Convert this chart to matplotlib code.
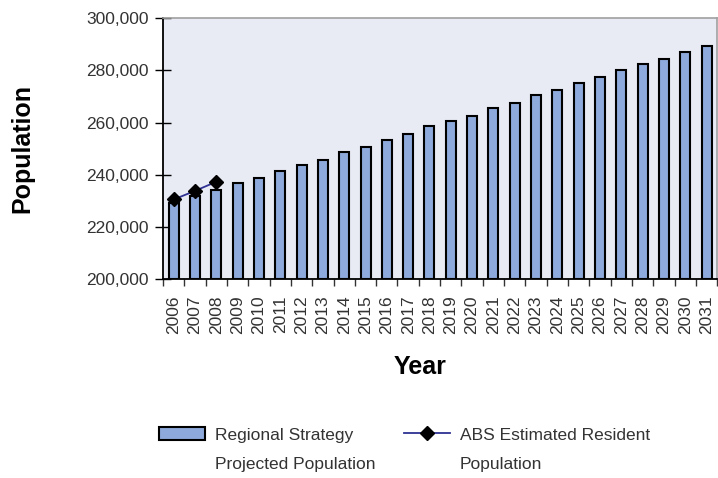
import matplotlib
matplotlib.use("Agg")
import matplotlib.pyplot as plt
import numpy as np
from matplotlib.ticker import FuncFormatter, FixedLocator

years = list(range(2006, 2032))
projected = [229200, 231800, 234000, 236800, 238800, 241600, 243800, 245800,
             248700, 250800, 253500, 255700, 258500, 260700, 262700, 265500,
             267700, 270400, 272500, 275300, 277400, 280200, 282400, 284500,
             287200, 289400]
abs_years = [2006, 2007, 2008]
abs_erp = [230500, 233800, 237300]

plt.rcParams['font.family'] = ['Liberation Sans', 'DejaVu Sans']

fig = plt.figure(figsize=(7.18, 4.78), dpi=100)
ax = fig.add_axes([0.227, 0.4163, 0.772, 0.5454])
ax.set_facecolor('#E8EAF4')

x = np.arange(len(years))
ax.bar(x, np.array(projected) - 200000, bottom=200000, width=0.47,
       color='#8EA9DB', edgecolor='black', linewidth=1.5, zorder=2)
xa = [years.index(y) for y in abs_years]
ax.plot(xa, abs_erp, color='#2E3192', linewidth=1.3, marker='D',
        markersize=7, markerfacecolor='black', markeredgecolor='black', zorder=3)

ax.set_xlim(-0.5, len(years) - 0.5)
ax.set_ylim(200000, 300000)
ax.set_yticks(range(200000, 300001, 20000))
ax.yaxis.set_major_formatter(FuncFormatter(lambda v, p: f'{int(v):,}'))
ax.set_xticks(x)
ax.set_xticklabels([str(y) for y in years], rotation=90)
ax.xaxis.set_minor_locator(FixedLocator(np.arange(-0.5, len(years), 1.0)))

ax.tick_params(axis='y', direction='inout', length=11, width=1, colors='black',
               labelsize=12.5, labelcolor='#333333', pad=5)
ax.tick_params(axis='x', which='major', length=0, labelsize=12.5,
               labelcolor='#333333', pad=12)
ax.tick_params(axis='x', which='minor', direction='out', length=5, width=1,
               color='#333333')

for s in ['top', 'right']:
    ax.spines[s].set_color('#A0A0A0')
    ax.spines[s].set_linewidth(1.2)
for s in ['left', 'bottom']:
    ax.spines[s].set_color('black')
    ax.spines[s].set_linewidth(1.3)

ax.set_ylabel('Population', fontsize=18, fontweight='bold')
ax.set_xlabel('Year', fontsize=18, fontweight='bold')
ax.yaxis.set_label_coords(-0.232, 0.5)
ax.xaxis.set_label_coords(0.464, -0.29)

bar_h = plt.Rectangle((0, 0), 1, 1, facecolor='#8EA9DB', edgecolor='black', linewidth=1.5)
line_h = plt.Line2D([], [], color='#2E3192', linewidth=1.3, marker='D',
                    markersize=7, markerfacecolor='black', markeredgecolor='black')
leg = fig.legend([bar_h, line_h], ['Regional Strategy', 'ABS Estimated Resident'],
                 loc='upper left', bbox_to_anchor=(0.212, 0.121), ncol=2,
                 frameon=False, fontsize=12.5, handlelength=2.65, handleheight=0.8,
                 handletextpad=0.55, columnspacing=2.95, borderaxespad=0)
for t in leg.get_texts():
    t.set_color('#333333')

fig.canvas.draw()
inv = fig.transFigure.inverted()
for t, second in zip(leg.get_texts(), ['Projected Population', 'Population']):
    bb = t.get_window_extent()
    fx, fy = inv.transform((bb.x0, bb.y0 - 14))
    fig.text(fx, fy, second, fontsize=12.5, color='#333333', va='top', ha='left')

fig.savefig('out.png', dpi=100)
